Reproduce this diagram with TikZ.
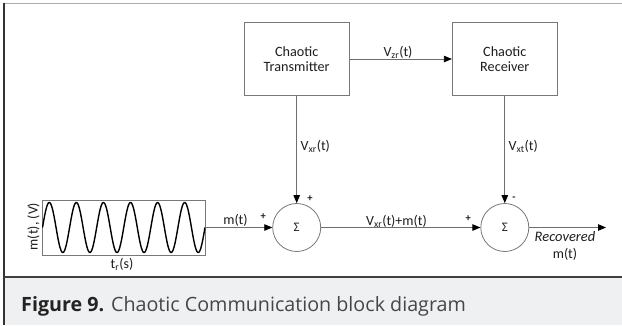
\documentclass[tikz,border=0pt]{standalone}
\usepackage{fontspec}
\setmainfont{Carlito}
\newfontfamily\capfont{Open Sans}
\usetikzlibrary{arrows.meta}
\definecolor{boxgray}{RGB}{120,120,120}
\definecolor{linegray}{RGB}{110,110,110}
\definecolor{txt}{RGB}{30,30,30}
\definecolor{capbg}{RGB}{239,240,242}
\definecolor{captxt}{RGB}{70,70,72}
\definecolor{capbold}{RGB}{35,35,35}
\begin{document}
\begin{tikzpicture}[x=1pt,y=-1pt,
  blk/.style={draw=boxgray, line width=0.8pt, minimum width=105pt, minimum height=73pt, inner sep=0pt, align=center, text=txt, font=\fontsize{14.2}{14.5}\selectfont},
  sumnode/.style={circle, draw=boxgray, line width=0.8pt, minimum size=48pt, inner sep=0pt, text=txt, font=\fontsize{13}{14}\selectfont},
  conn/.style={draw=linegray, line width=0.8pt},
  arr/.style={conn, -{Triangle[length=8pt,width=6.5pt,color=black]}},
  lbl/.style={font=\fontsize{14}{16}\selectfont, text=txt, inner sep=0pt},
  sgn/.style={font=\fontsize{10.5}{11}\selectfont\bfseries, text=txt, inner sep=0pt},
]
\useasboundingbox (0,0) rectangle (622,325);
\fill[white] (0,0) rectangle (622,325);
% frame and caption area
\fill[capbg] (4,278) rectangle (622,325);
\draw[gray!65, line width=1pt] (4,3) -- (622,3);
\draw[black!80, line width=1.2pt] (4,3) -- (4,325);
\draw[black!75, line width=2pt] (4,277) -- (622,277);
\node[anchor=base west, inner sep=0pt, font=\capfont\fontsize{19.7}{22}\selectfont, text=captxt] (cap) at (21,311)
  {\textcolor{capbold}{\bfseries Figure 9.} Chaotic Communication block diagram};

% blocks
\node[blk] (tx) at (296.7,59) {Chaotic\\Transmitter};
\node[blk] (rx) at (504.8,59) {Chaotic\\Receiver};
\node[sumnode] (s1) at (296.7,227.5) {Σ};
\node[sumnode] (s2) at (504.8,227.5) {Σ};
\node[draw=boxgray, line width=0.8pt, minimum width=162.5pt, minimum height=55pt, inner sep=0pt] (sig) at (123.8,227.5) {};
\begin{scope}
\clip (sig.south west) rectangle (sig.north east);
\draw[black, line width=1.4pt, domain=0:162.5, samples=300, smooth]
  plot ({\x+42.5}, {227.5 - 25*sin(\x/162.5*6*360)});
\end{scope}
\coordinate (out) at (606,227.5);

% connectors
\draw[arr] (tx.east) -- (rx.west);
\draw[arr] (tx.south) -- (s1.north);
\draw[arr] (rx.south) -- (s2.north);
\draw[arr] (sig.east) -- (s1.west);
\draw[arr] (s1.east) -- (s2.west);
\draw[arr] (s2.east) -- (out);

% labels
\node[lbl] (lzr) at (398,52.5) {V\textsubscript{zr}(t)};
\node[lbl, anchor=west] (lxr) at (300.5,146.5) {V\textsubscript{xr}(t)};
\node[lbl, anchor=west] (lxt) at (508.5,146.5) {V\textsubscript{xt}(t)};
\node[lbl] (lm) at (235.5,220) {m(t)};
\node[lbl] (lsum) at (396.5,221) {V\textsubscript{xr}(t)+m(t)};
\node[lbl, font=\fontsize{14.5}{16}\selectfont\itshape] (lrec) at (565,237) {Recovered};
\node[lbl] (lrm) at (565,254) {m(t)};
\node[lbl, rotate=90] (lyv) at (33.5,226.5) {m(t), (V)};
\node[lbl] (ltr) at (122,264) {t\textsubscript{r}(s)};
\node[sgn] (p1) at (263.3,216.5) {+};
\node[sgn] (p2) at (310,198.5) {+};
\node[sgn] (p3) at (468.3,219) {+};
\node[sgn] (m1) at (514,198.5) {-};
\end{tikzpicture}
\end{document}
